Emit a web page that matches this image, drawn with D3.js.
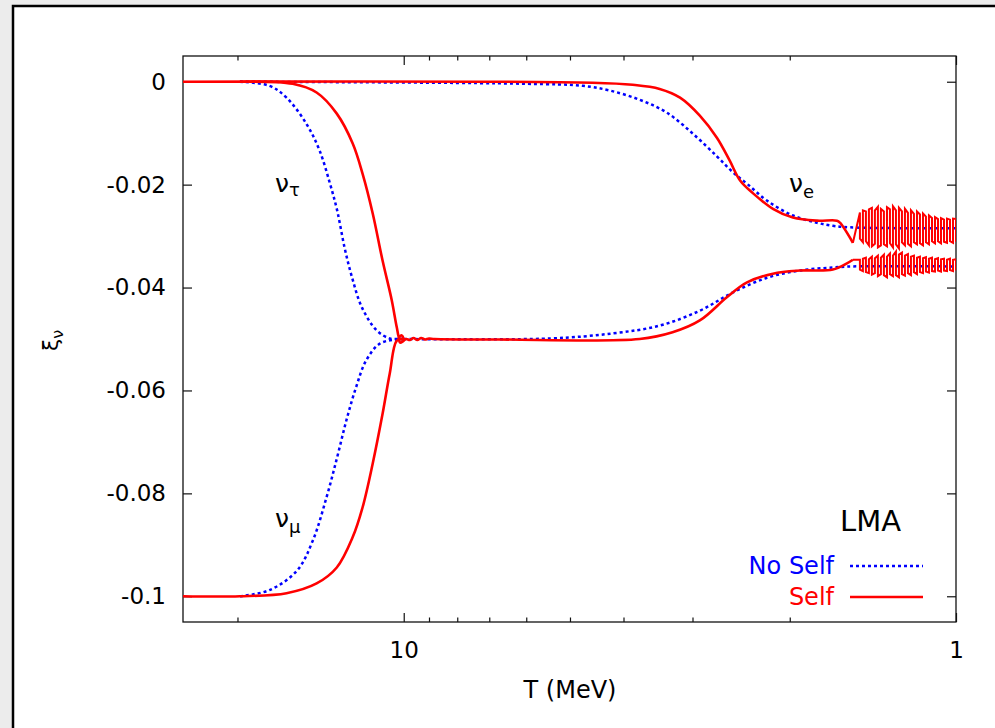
<!DOCTYPE html>
<html>
<head>
<meta charset="utf-8">
<script src="https://cdn.jsdelivr.net/npm/d3@7"></script>
<style>
body { margin: 0; background: #ececec; }
svg text { font-family: "DejaVu Sans", sans-serif; }
</style>
</head>
<body>
<div id="chart"></div>
<script>
// [T (MeV), xi]
var nuTauNoSelf = [[19.8, 0], [17.5, -0.0008], [16.3, -0.0031], [15.0, -0.0082], [14.2, -0.0134], [13.6, -0.0198], [13.2, -0.025], [12.8, -0.0322], [12.4, -0.0381], [11.9, -0.0439], [11.2, -0.0483], [10.6, -0.0499], [10.2, -0.05], [10, -0.05]];
var nuMuNoSelf = [[19.8, -0.1], [17.5, -0.0988], [15.6, -0.095], [14.6, -0.0891], [13.8, -0.0808], [13.2, -0.073], [12.7, -0.0658], [12.2, -0.0594], [11.7, -0.0542], [11.05, -0.0509], [10.3, -0.0501], [10, -0.05]];
var muTauNoSelf = [[10, -0.05], [5.44, -0.0499], [4.18, -0.0489], [3.44, -0.0474], [2.91, -0.0445], [2.54, -0.041], [2.2, -0.0381], [1.92, -0.0367], [1.67, -0.0361], [1.54, -0.0359], [1, -0.0359]];
var nuENoSelf = [[19.8, 0], [5.99, -0.0004], [4.74, -0.0008], [4.24, -0.0017], [3.74, -0.0035], [3.34, -0.006], [2.995, -0.0101], [2.71, -0.0145], [2.54, -0.0175], [2.38, -0.02], [2.2, -0.0231], [1.974, -0.026], [1.786, -0.0274], [1.671, -0.028], [1.556, -0.0283], [1, -0.0285]];

var nuESelf = [[25.1, 0], [4.55, -0.0002], [3.85, -0.0006], [3.44, -0.0014], [3.16, -0.0031], [2.91, -0.0066], [2.71, -0.0109], [2.57, -0.0153], [2.46, -0.0192], [2.33, -0.0217], [2.145, -0.0247], [1.974, -0.0264], [1.786, -0.027], [1.643, -0.027], [1.622, -0.0274], [1.537, -0.0313]];
var nuTauSelf = [[19.8, 0], [15.89, -0.0004], [14.38, -0.0021], [13.22, -0.0062], [12.37, -0.012], [11.87, -0.0179], [11.38, -0.0256], [10.92, -0.0348], [10.51, -0.0425], [10.29, -0.0478], [10.17, -0.0499], [10, -0.05]];
var nuMuSelf = [[25.1, -0.1], [19.8, -0.1], [16.3, -0.0994], [14.38, -0.0975], [13.22, -0.0944], [12.37, -0.0885], [11.87, -0.0827], [11.38, -0.0742], [10.92, -0.0645], [10.6, -0.0567], [10.29, -0.0503], [10, -0.05]];
var muTauSelf = [[10, -0.05], [10.08, -0.0493], [10.2, -0.0497], [10.15, -0.0507], [10.02, -0.0504], [9.9, -0.05], [9.75, -0.0502], [9.6, -0.0498], [9.45, -0.0502], [9.3, -0.0498], [9.15, -0.0501], [9.0, -0.0499], [8.8, -0.05], [6.7, -0.0501], [3.74, -0.05], [3.26, -0.0487], [2.91, -0.0464], [2.6, -0.0419], [2.39, -0.039], [2.145, -0.0373], [1.917, -0.0367], [1.671, -0.0365], [1.576, -0.0353], [1.537, -0.0346]];

// the fast wiggles at low T (self interaction curves), upper / lower edge of each band
var oscT = [1.4927, 1.4742, 1.4559, 1.4378, 1.4199, 1.4023, 1.3848, 1.3676, 1.3506, 1.3335, 1.317, 1.3006, 1.2845, 1.2685, 1.2528, 1.2372, 1.2218, 1.2066, 1.1916, 1.1767, 1.1621, 1.1476, 1.1334, 1.1193, 1.1053, 1.0916, 1.078, 1.0646, 1.0513, 1.0383, 1.0253, 1.0126, 1];
var eOscHi = [-0.0254, -0.025, -0.0252, -0.0248, -0.0245, -0.025, -0.0243, -0.0247, -0.0252, -0.0244, -0.0248, -0.0242, -0.025, -0.0245, -0.0252, -0.0247, -0.0255, -0.025, -0.0257, -0.0252, -0.0258, -0.0256, -0.0262, -0.026, -0.0265, -0.0263, -0.0267, -0.0265, -0.0268, -0.0266, -0.0268, -0.0266, -0.0267];
var eOscLo = [-0.0305, -0.0312, -0.031, -0.0318, -0.032, -0.0315, -0.0322, -0.0318, -0.0316, -0.032, -0.0314, -0.0322, -0.0316, -0.0324, -0.0312, -0.0318, -0.0315, -0.032, -0.0312, -0.0316, -0.0314, -0.0318, -0.0312, -0.0316, -0.031, -0.0314, -0.031, -0.0314, -0.0311, -0.0313, -0.031, -0.0313, -0.0311];
var mOscHi = [-0.0346, -0.0344, -0.0342, -0.0345, -0.034, -0.0343, -0.0338, -0.0342, -0.0336, -0.034, -0.0334, -0.0338, -0.033, -0.0336, -0.0332, -0.0338, -0.0335, -0.034, -0.0338, -0.0342, -0.034, -0.0343, -0.0341, -0.0344, -0.0342, -0.0345, -0.0343, -0.0345, -0.0344, -0.0346, -0.0344, -0.0346, -0.0345];
var mOscLo = [-0.0365, -0.0368, -0.037, -0.0372, -0.0375, -0.0372, -0.0378, -0.0374, -0.0376, -0.038, -0.0374, -0.0378, -0.0376, -0.038, -0.0374, -0.0377, -0.0372, -0.0376, -0.037, -0.0374, -0.037, -0.0372, -0.0369, -0.0371, -0.0368, -0.0369, -0.0367, -0.0369, -0.0367, -0.0368, -0.0366, -0.0368, -0.0367];

// axes
var yTicks = [0, -0.02, -0.04, -0.06, -0.08, -0.1];
var yTickLabels = ["0", "-0.02", "-0.04", "-0.06", "-0.08", "-0.1"];
var xMajorTicks = [10, 1];
var xTickLabels = ["10", "1"];
var xMinorTicks = [20, 9, 8, 7, 6, 5, 4, 3, 2];

var svgWidth = 995;
var svgHeight = 728;
var margin = { top: 56, right: 39, bottom: 106, left: 183 };
var width = svgWidth - margin.left - margin.right;
var height = svgHeight - margin.top - margin.bottom;

var svg = d3.select("#chart")
    .append("svg")
    .attr("width", svgWidth)
    .attr("height", svgHeight);

// outer picture border
svg.append("rect")
    .attr("x", 13).attr("y", 6)
    .attr("width", 1000).attr("height", 800)
    .attr("fill", "white")
    .attr("stroke", "black")
    .attr("stroke-width", 2.5);

var chart = svg.append("g")
    .attr("transform", `translate(${margin.left}, ${margin.top})`);

var xscale = d3.scaleLog().domain([25.1, 1]).range([0, width]);
var yscale = d3.scaleLinear().domain([-0.105, 0.005]).range([height, 0]);

chart.append("clipPath").attr("id", "plotclip")
    .append("rect").attr("width", width).attr("height", height);

// ticks all point inward
function styleAxis(g) {
    g.select(".domain").remove();
    g.selectAll("line").attr("stroke", "#111").attr("stroke-width", 1.2);
    g.selectAll("text")
        .attr("fill", "black")
        .style("font-family", "'DejaVu Sans', sans-serif")
        .style("font-size", "23px");
}

chart.append("g")
    .call(d3.axisLeft(yscale).tickValues(yTicks).tickSize(-9).tickPadding(17)
        .tickFormat((d, i) => yTickLabels[i]))
    .call(styleAxis);
chart.append("g")
    .attr("transform", `translate(${width}, 0)`)
    .call(d3.axisRight(yscale).tickValues(yTicks).tickSize(-9).tickFormat(""))
    .call(styleAxis);
chart.append("g")
    .attr("transform", `translate(0, ${height})`)
    .call(d3.axisBottom(xscale).tickValues(xMajorTicks).tickSize(-9).tickPadding(20)
        .tickFormat((d, i) => xTickLabels[i]))
    .call(styleAxis);
chart.append("g")
    .attr("transform", `translate(0, ${height})`)
    .call(d3.axisBottom(xscale).tickValues(xMinorTicks).tickSize(-4.5).tickFormat(""))
    .call(styleAxis);
chart.append("g")
    .call(d3.axisTop(xscale).tickValues(xMajorTicks).tickSize(-9).tickFormat(""))
    .call(styleAxis);
chart.append("g")
    .call(d3.axisTop(xscale).tickValues(xMinorTicks).tickSize(-4.5).tickFormat(""))
    .call(styleAxis);

chart.append("rect")
    .attr("width", width).attr("height", height)
    .attr("fill", "none")
    .attr("stroke", "#111")
    .attr("stroke-width", 1.3);

// the oscillating tails, as a square wave between the two edges, starting at the end of the smooth part
function oscPoints(start, hi, lo) {
    var pts = [start];
    oscT.forEach(function (t, i) {
        if (i % 2 == 0) { pts.push([t, hi[i]]); pts.push([t, lo[i]]); }
        else { pts.push([t, lo[i]]); pts.push([t, hi[i]]); }
    });
    return pts;
}

var smooth = d3.line()
    .curve(d3.curveCatmullRom.alpha(0.5))
    .x(d => xscale(d[0]))
    .y(d => yscale(d[1]));
var jagged = d3.line()
    .x(d => xscale(d[0]))
    .y(d => yscale(d[1]));

var plot = chart.append("g").attr("clip-path", "url(#plotclip)");

var noSelf = [nuTauNoSelf, nuMuNoSelf, muTauNoSelf, nuENoSelf];
var self = [nuESelf, nuTauSelf, nuMuSelf, muTauSelf];
var selfOsc = [
    oscPoints(nuESelf[nuESelf.length - 1], eOscHi, eOscLo),
    oscPoints(muTauSelf[muTauSelf.length - 1], mOscHi, mOscLo)
];

plot.selectAll(".noself")
    .data(noSelf)
    .enter()
    .append("path")
    .attr("class", "noself")
    .attr("d", smooth)
    .attr("fill", "none")
    .attr("stroke", "#0000ff")
    .attr("stroke-width", 2.5)
    .attr("stroke-dasharray", "3,3");

plot.selectAll(".self")
    .data(self)
    .enter()
    .append("path")
    .attr("class", "self")
    .attr("d", smooth)
    .attr("fill", "none")
    .attr("stroke", "#ff0000")
    .attr("stroke-width", 2.6)
    .attr("stroke-linejoin", "round");

plot.selectAll(".selfosc")
    .data(selfOsc)
    .enter()
    .append("path")
    .attr("class", "selfosc")
    .attr("d", jagged)
    .attr("fill", "none")
    .attr("stroke", "#ff0000")
    .attr("stroke-width", 2);

// curve labels
function nuLabel(x, y, sub, dy) {
    var t = svg.append("text")
        .attr("x", x).attr("y", y)
        .style("font-size", "25px")
        .attr("fill", "black");
    t.append("tspan").text("\u03bd");
    t.append("tspan").attr("dy", dy).style("font-size", "18px").text(sub);
}
nuLabel(275, 192, "\u03c4", 4);
nuLabel(275, 527, "\u03bc", 6);
nuLabel(789, 192, "e", 6);

// axis titles
svg.append("text")
    .attr("x", 570).attr("y", 698)
    .attr("text-anchor", "middle")
    .style("font-size", "24px")
    .text("T (MeV)");

var ylab = svg.append("text")
    .attr("transform", "translate(58, 351) rotate(-90)")
    .style("font-size", "22px");
ylab.append("tspan").text("\u03be");
ylab.append("tspan").attr("dy", 5).style("font-size", "16px").text("\u03bd");

// legend
svg.append("text")
    .attr("x", 901).attr("y", 531)
    .attr("text-anchor", "end")
    .style("font-size", "29px")
    .text("LMA");

var legendItems = ["No Self", "Self"];
var legendColors = ["#0000ff", "#ff0000"];
var legendDash = ["3,3", null];

legendItems.forEach(function (name, i) {
    var ly = 566 + i * 31;
    svg.append("text")
        .attr("x", 834).attr("y", ly + 8)
        .attr("text-anchor", "end")
        .attr("fill", legendColors[i])
        .style("font-size", "24px")
        .text(name);
    svg.append("line")
        .attr("x1", 850).attr("x2", 923)
        .attr("y1", ly).attr("y2", ly)
        .attr("stroke", legendColors[i])
        .attr("stroke-width", 2.5)
        .attr("stroke-dasharray", legendDash[i]);
});
</script>
</body>
</html>
